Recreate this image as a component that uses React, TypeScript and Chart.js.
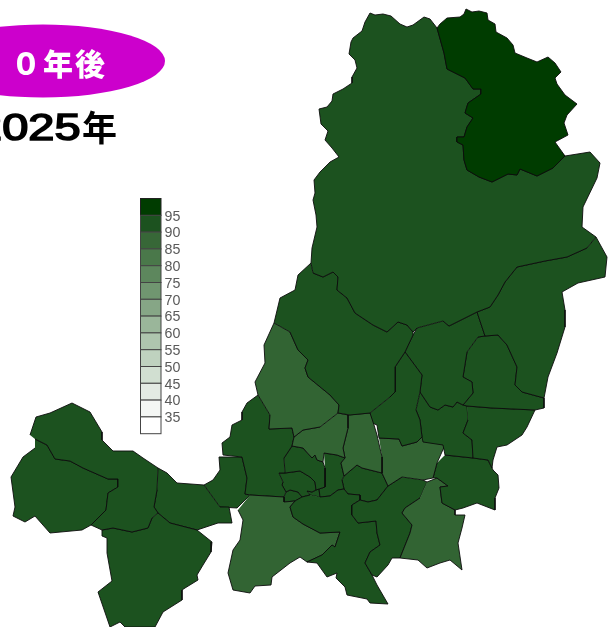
import React, { useEffect, useRef } from "react";
import { Chart, registerables } from "chart.js";

Chart.register(...registerables);

type P = [number, number];

const DEEP = "#003c00";
const MID = "#1c521f";
const SOFT = "#326433";

const legendColors = ["#003c00", "#1c521f", "#376737", "#4a784a", "#5d875d", "#709670", "#86a686", "#9ab69a", "#aec5ae", "#bfd2bf", "#d1dfd1", "#e3eae3", "#f4f6f4", "#ffffff"];
const legendTicks = ["95", "90", "85", "80", "75", "70", "65", "60", "55", "50", "45", "40", "35"];
const badgeText = "０年後";
const yearDigits = "2025";
const yearSuffix = "年";

const northOuter: P[] = [[437,28],[440,24],[447,18],[460,17],[464,14],[466,9],[472,12],[479,11],[487,13],[488,20],[495,24],[496,32],[507,38],[513,45],[515,53],[527,58],[537,62],[548,57],[555,63],[561,72],[555,78],[557,84],[565,95],[577,104],[567,115],[564,123],[568,135],[555,142],[565,156]];
const northSeam: P[] = [[565,156],[553,168],[537,176],[520,169],[517,175],[508,174],[492,182],[479,177],[467,170],[464,160],[463,145],[457,142],[457,137],[464,137],[467,127],[473,118],[465,113],[468,103],[481,94],[481,89],[473,89],[465,78],[447,69],[444,53],[437,28]];
const northRegion: P[] = [...northOuter, ...northSeam];
const bigRegion: P[] = [[437,28],[430,19],[424,17],[413,25],[407,27],[400,24],[391,16],[383,14],[375,15],[370,13],[365,22],[362,31],[353,38],[351,42],[349,54],[355,60],[357,68],[352,77],[352,83],[343,89],[333,94],[332,101],[327,107],[319,109],[321,124],[328,131],[325,140],[332,148],[339,157],[330,162],[320,172],[314,180],[315,193],[313,200],[316,215],[317,227],[312,248],[311,263],[313,273],[323,277],[333,272],[338,277],[337,290],[347,298],[355,313],[373,325],[387,332],[398,322],[407,325],[413,332],[417,328],[443,321],[449,326],[477,312],[490,307],[498,295],[505,282],[517,267],[545,261],[567,257],[587,248],[596,237],[582,227],[583,207],[597,178],[600,163],[590,152],[565,156],...[...northSeam].reverse()];
const eastRegion: P[] = [[596,237],[607,257],[605,277],[578,283],[562,292],[565,310],[565,327],[557,353],[548,377],[544,398],[522,392],[515,385],[517,367],[507,345],[498,335],[485,336],[477,312],[490,307],[498,295],[505,282],[517,267],[545,261],[567,257],[587,248]];
const midWest: P[] = [[311,263],[298,275],[295,290],[280,298],[274,323],[290,332],[298,350],[308,360],[305,368],[308,377],[330,395],[339,405],[338,413],[350,415],[370,413],[390,397],[395,392],[395,367],[405,352],[413,335],[413,332],[407,325],[398,322],[387,332],[373,325],[355,313],[347,298],[337,290],[338,277],[333,272],[323,277],[313,273]];
const softWest: P[] = [[274,323],[264,345],[265,363],[255,382],[258,395],[270,415],[269,429],[292,428],[294,437],[303,430],[320,427],[338,413],[339,405],[330,395],[308,377],[305,368],[308,360],[298,350],[290,332]];
const softSmall: P[] = [[338,413],[348,415],[348,428],[343,448],[345,458],[337,455],[324,453],[323,462],[317,460],[315,455],[312,458],[303,448],[292,446],[294,437],[303,430],[320,427]];
const softNarrow: P[] = [[348,415],[370,413],[374,425],[377,435],[382,457],[382,473],[362,468],[357,465],[344,476],[341,463],[345,458],[343,448],[348,428]];
const midNarrow: P[] = [[370,413],[372,423],[377,425],[379,438],[399,439],[402,446],[417,442],[422,437],[420,420],[416,410],[420,392],[422,375],[405,352],[395,367],[395,392],[390,397]];
const midCentre: P[] = [[417,328],[413,335],[405,352],[422,375],[420,392],[430,407],[438,410],[445,405],[453,407],[457,402],[463,405],[473,393],[472,382],[463,377],[467,352],[478,337],[485,336],[477,312],[449,326],[443,321]];
const midInner: P[] = [[478,337],[485,336],[498,335],[507,345],[517,367],[515,385],[522,392],[544,398],[544,408],[535,410],[492,408],[467,406],[463,405],[473,393],[472,382],[463,377],[467,352]];
const midCoast: P[] = [[467,406],[492,408],[535,410],[527,427],[522,435],[507,445],[497,447],[493,460],[492,468],[488,460],[473,458],[472,440],[463,433],[468,420]];
const midLower: P[] = [[420,392],[430,407],[438,410],[445,405],[453,407],[457,402],[463,405],[467,406],[468,420],[463,433],[472,440],[473,458],[445,455],[443,445],[423,442],[422,437],[420,420],[416,410]];
const softEast: P[] = [[379,438],[399,439],[402,446],[417,442],[422,437],[445,445],[437,463],[433,478],[423,480],[402,477],[388,486],[382,473],[382,457]];
const midShore: P[] = [[445,455],[473,458],[488,460],[493,470],[498,475],[499,488],[495,498],[495,510],[477,503],[463,508],[455,510],[442,503],[440,487],[448,486],[437,478],[433,478],[437,463]];
const softSouth: P[] = [[427,482],[437,478],[448,486],[440,487],[442,503],[455,510],[455,515],[465,515],[462,528],[458,543],[462,570],[450,560],[440,563],[427,568],[418,560],[400,558],[410,533],[412,525],[402,513],[405,508],[420,498]];
const midRiver: P[] = [[423,480],[427,482],[420,498],[405,508],[402,513],[412,525],[410,533],[400,558],[392,558],[388,565],[377,577],[372,575],[365,563],[370,552],[380,545],[377,533],[376,521],[358,523],[352,515],[352,505],[360,500],[368,502],[377,500],[388,486],[402,477]];
const midSouth: P[] = [[320,497],[330,496],[338,490],[344,489],[348,494],[360,495],[360,500],[352,505],[352,515],[358,523],[376,521],[377,533],[380,545],[370,552],[365,563],[372,575],[377,585],[388,604],[370,603],[367,599],[347,595],[345,587],[336,578],[337,573],[327,577],[317,563],[307,562],[322,555],[332,545],[335,547],[340,532],[320,533],[303,524],[293,517],[290,507],[295,501],[302,497],[310,495]];
const softSouthWest: P[] = [[250,495],[284,497],[284,502],[295,501],[290,507],[293,517],[303,524],[320,533],[340,532],[335,547],[332,545],[322,555],[307,562],[300,557],[290,563],[272,577],[271,585],[255,586],[250,593],[233,590],[228,573],[233,550],[240,540],[243,520],[238,510]];
const midTall: P[] = [[258,395],[247,403],[242,412],[242,420],[232,425],[230,437],[222,443],[223,455],[242,457],[247,478],[245,494],[250,495],[284,497],[286,492],[282,485],[283,482],[279,473],[285,473],[284,458],[292,446],[294,437],[292,428],[269,429],[270,415]];
const cellOne: P[] = [[284,458],[292,446],[303,448],[312,458],[315,455],[317,460],[323,462],[325,468],[325,487],[319,489],[316,490],[315,482],[310,477],[300,471],[285,473]];
const cellTwo: P[] = [[279,473],[285,473],[300,471],[310,477],[315,482],[316,490],[312,492],[307,491],[310,495],[302,497],[298,492],[290,490],[286,492],[282,485],[283,482]];
const cellThree: P[] = [[286,492],[290,490],[298,492],[302,497],[295,501],[284,502],[284,497]];
const cellFour: P[] = [[324,453],[337,455],[345,458],[341,463],[344,476],[342,480],[344,489],[338,490],[330,496],[320,497],[319,489],[325,487],[325,468]];
const cellFive: P[] = [[344,476],[357,465],[362,468],[382,473],[388,486],[377,500],[368,502],[360,500],[360,495],[348,494],[344,489],[342,480]];
const cellSix: P[] = [[310,495],[320,497],[319,489],[316,490],[312,492],[307,491]];
const farNorth: P[] = [[30,435],[36,417],[50,413],[72,403],[90,412],[102,432],[102,440],[113,451],[133,451],[143,458],[158,468],[157,490],[154,507],[158,513],[152,518],[148,528],[132,532],[113,528],[102,530],[91,525],[106,510],[108,493],[118,487],[118,479],[108,479],[83,468],[70,461],[55,459],[47,445],[35,439]];
const farWest: P[] = [[35,439],[47,445],[55,459],[70,461],[83,468],[108,479],[118,479],[118,487],[108,493],[106,510],[91,525],[82,530],[50,533],[35,516],[25,522],[13,516],[15,507],[11,477],[23,457],[35,448]];
const farSouth: P[] = [[158,513],[170,523],[197,530],[212,542],[211,552],[203,565],[197,575],[198,580],[185,588],[182,590],[182,600],[163,612],[155,627],[125,627],[120,622],[110,627],[98,592],[112,581],[107,553],[107,538],[102,536],[102,530],[113,528],[132,532],[148,528],[152,518]];
const farBridge: P[] = [[158,468],[167,473],[177,483],[204,485],[220,507],[229,507],[232,523],[218,523],[197,530],[170,523],[158,513],[154,507],[157,490]];
const neck: P[] = [[204,485],[213,480],[220,470],[219,457],[242,457],[247,478],[245,494],[250,495],[237,508],[220,507]];

const regions: { shape: P[]; colour: string }[] = [
  { shape: northRegion, colour: DEEP }, { shape: bigRegion, colour: MID }, { shape: eastRegion, colour: MID },
  { shape: midWest, colour: MID }, { shape: softWest, colour: SOFT }, { shape: softSmall, colour: SOFT },
  { shape: softNarrow, colour: SOFT }, { shape: midNarrow, colour: MID }, { shape: midCentre, colour: MID },
  { shape: midInner, colour: MID }, { shape: midCoast, colour: MID }, { shape: midLower, colour: MID },
  { shape: softEast, colour: SOFT }, { shape: midShore, colour: MID }, { shape: softSouth, colour: SOFT },
  { shape: midRiver, colour: MID }, { shape: midSouth, colour: MID }, { shape: softSouthWest, colour: SOFT },
  { shape: midTall, colour: MID }, { shape: cellOne, colour: MID }, { shape: cellTwo, colour: MID },
  { shape: cellThree, colour: MID }, { shape: cellFour, colour: MID }, { shape: cellFive, colour: MID },
  { shape: cellSix, colour: MID },
  { shape: farNorth, colour: MID }, { shape: farWest, colour: MID }, { shape: farSouth, colour: MID },
  { shape: farBridge, colour: MID }, { shape: neck, colour: MID },
];

const decorations = {
  id: "decorations",
  afterDatasetsDraw(chart: any) {
    const c = chart.ctx;
    c.save();
    c.fillStyle = "#cc00cc";
    c.beginPath();
    c.ellipse(43, 61, 122, 36.5, 0, 0, Math.PI * 2);
    c.fill();
    c.fillStyle = "#ffffff";
    c.font = "900 30px 'Noto Sans CJK JP'";
    c.textBaseline = "alphabetic";
    c.textAlign = "left";
    c.letterSpacing = "2px";
    c.fillText(badgeText, 11, 75);
    c.letterSpacing = "0px";
    c.fillStyle = "#000000";
    c.strokeStyle = "#000000";
    c.save();
    c.translate(-24, 140);
    c.scale(1.27, 1);
    c.font = "37px 'Liberation Sans'";
    c.lineWidth = 1.6;
    c.fillText(yearDigits, 0, 0);
    c.strokeText(yearDigits, 0, 0);
    c.restore();
    c.font = "bold 35px 'Noto Sans CJK JP'";
    c.fillText(yearSuffix, 82, 141);
    const step = 16.8;
    legendColors.forEach((col, i) => {
      c.fillStyle = col;
      c.fillRect(140.5, 198.5 + i * step, 20.5, step);
      c.strokeStyle = i === 0 ? "#222222" : "#444444";
      c.lineWidth = 1;
      c.strokeRect(140.5, 198.5 + i * step, 20.5, step);
    });
    c.fillStyle = "#5a5a5a";
    legendTicks.forEach((t, i) => {
      c.save();
      c.translate(164.5, 220.5 + i * step);
      c.scale(0.92, 1);
      c.font = "15.5px 'Liberation Sans'";
      c.fillText(t, 0, 0);
      c.restore();
    });
    c.restore();
  },
};

export default function App() {
  const ref = useRef<HTMLCanvasElement>(null);
  useEffect(() => {
    const chart = new Chart(ref.current!, {
      type: "scatter",
      data: {
        datasets: regions.map((r) => ({
          data: r.shape.map(([x, y]) => ({ x, y })),
          showLine: true,
          fill: "shape",
          backgroundColor: r.colour,
          borderColor: "#0c0c0c",
          borderWidth: 0.9,
          pointRadius: 0,
          tension: 0,
          clip: false,
          borderJoinStyle: "round",
        })) as any,
      },
      options: {
        animation: false,
        responsive: false,
        events: [],
        layout: { padding: 0 },
        plugins: { legend: { display: false }, tooltip: { enabled: false }, title: { display: false } },
        scales: {
          x: { type: "linear", min: 0, max: 608, display: false },
          y: { type: "linear", min: 0, max: 627, reverse: true, display: false },
        },
      },
      plugins: [decorations],
    });
    return () => chart.destroy();
  }, []);
  return (
    <canvas
      ref={ref}
      width={608}
      height={627}
      style={{ position: "absolute", left: 0, top: 0, width: 608, height: 627, background: "#fff" }}
    />
  );
}
